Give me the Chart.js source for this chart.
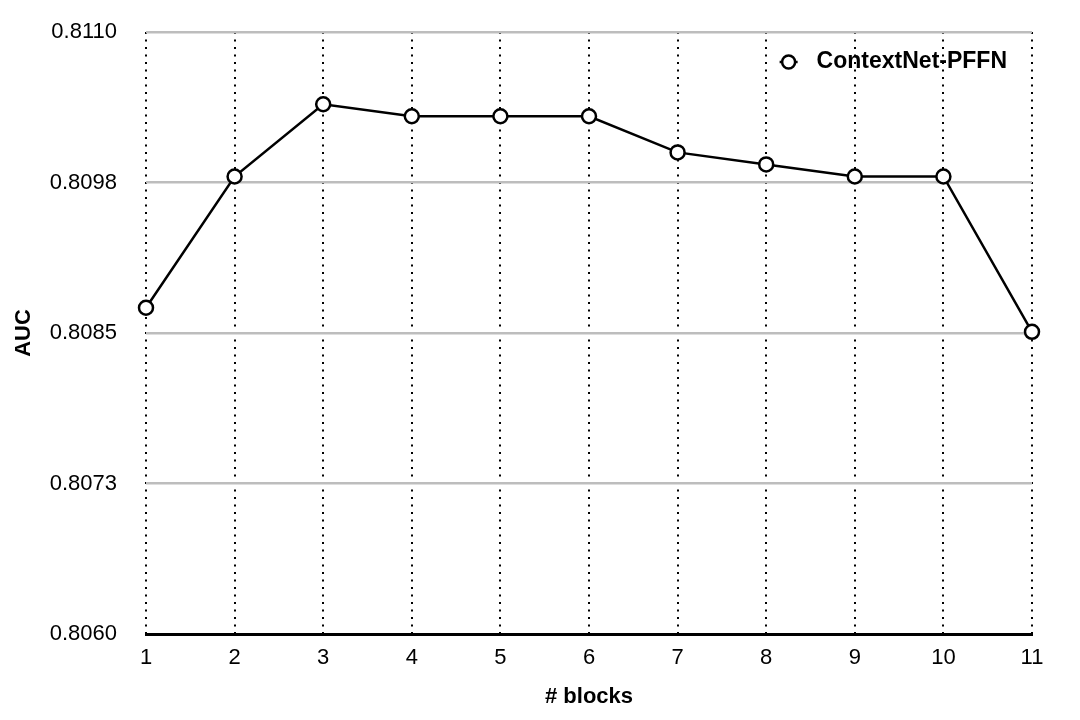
<!DOCTYPE html>
<html>
<head>
<meta charset="utf-8">
<script src="https://cdn.jsdelivr.net/npm/chart.js@4"></script>
<style>
  html, body { margin: 0; padding: 0; background: #fff; }
  #wrap { width: 1080px; height: 720px; }
</style>
</head>
<body>
<div id="wrap"><canvas id="chart"></canvas></div>
<script>
const blocks = ['1', '2', '3', '4', '5', '6', '7', '8', '9', '10', '11'];
const aucValues = [0.80871, 0.80980, 0.81040, 0.81030, 0.81030, 0.81030, 0.81000, 0.80990, 0.80980, 0.80980, 0.80851];
const yTickValues = [0.8060, 0.80725, 0.8085, 0.80975, 0.8110];
const yTickLabels = ['0.8060', '0.8073', '0.8085', '0.8098', '0.8110'];
const seriesName = 'ContextNet-PFFN';

const FONT = '"Liberation Sans", Arial, Helvetica, sans-serif';
Chart.defaults.font.family = FONT;
Chart.defaults.color = '#000';

// legend drawn inside the plot, top right, line through an open circle
const insideLegend = {
  id: 'insideLegend',
  afterDatasetsDraw(chart) {
    const { ctx, chartArea } = chart;
    const ds = chart.data.datasets[0];
    ctx.save();
    ctx.font = 'bold 23px ' + FONT;
    ctx.textBaseline = 'middle';
    ctx.textAlign = 'right';
    const right = chartArea.right - 25;
    const y = chartArea.top + 30;
    const w = ctx.measureText(ds.label).width;
    ctx.fillStyle = '#000';
    ctx.fillText(ds.label, right, y);
    const mx = right - w - 28;
    ctx.strokeStyle = ds.borderColor;
    ctx.lineWidth = 2.5;
    ctx.beginPath();
    ctx.moveTo(mx - 9, y);
    ctx.lineTo(mx + 9, y);
    ctx.stroke();
    ctx.beginPath();
    ctx.arc(mx, y, 6.5, 0, Math.PI * 2);
    ctx.fillStyle = '#fff';
    ctx.fill();
    ctx.stroke();
    ctx.restore();
  }
};

new Chart(document.getElementById('chart'), {
  type: 'line',
  data: {
    labels: blocks,
    datasets: [{
      label: seriesName,
      data: aucValues,
      borderColor: '#000',
      borderWidth: 2.5,
      tension: 0,
      pointRadius: 7,
      pointBorderWidth: 2.5,
      pointBackgroundColor: '#fff',
      pointBorderColor: '#000',
      clip: false
    }]
  },
  options: {
    responsive: true,
    maintainAspectRatio: false,
    animation: false,
    layout: { padding: { top: 32, right: 48, left: 0, bottom: 0 } },
    plugins: {
      legend: { display: false },
      tooltip: { enabled: false }
    },
    scales: {
      x: {
        offset: false,
        grid: { color: '#000', lineWidth: 2, drawTicks: false },
        border: { display: true, color: '#000', width: 3, dash: [2, 5.5] },
        ticks: { font: { size: 22 }, padding: 11, maxRotation: 0 },
        title: { display: true, text: '# blocks', font: { size: 22, weight: 'bold' }, padding: { top: 0, bottom: 10 } },
        afterFit(scale) {
          scale.height = 86;
          scale.paddingLeft = 0;
          scale.paddingRight = 0;
        }
      },
      y: {
        min: 0.8060,
        max: 0.8110,
        grid: { color: '#bdbdbd', lineWidth: 2.5, drawTicks: false },
        border: { display: false },
        ticks: {
          font: { size: 22 },
          padding: 29,
          callback: (v, i) => yTickLabels[i]
        },
        afterBuildTicks(scale) { scale.ticks = yTickValues.map(v => ({ value: v })); },
        title: { display: true, text: 'AUC', font: { size: 22, weight: 'bold' }, padding: { top: 11, bottom: 0 } },
        afterFit(scale) {
          scale.width = 146;
          scale.paddingTop = 0;
          scale.paddingBottom = 0;
        }
      }
    }
  },
  plugins: [insideLegend]
});
</script>
</body>
</html>
